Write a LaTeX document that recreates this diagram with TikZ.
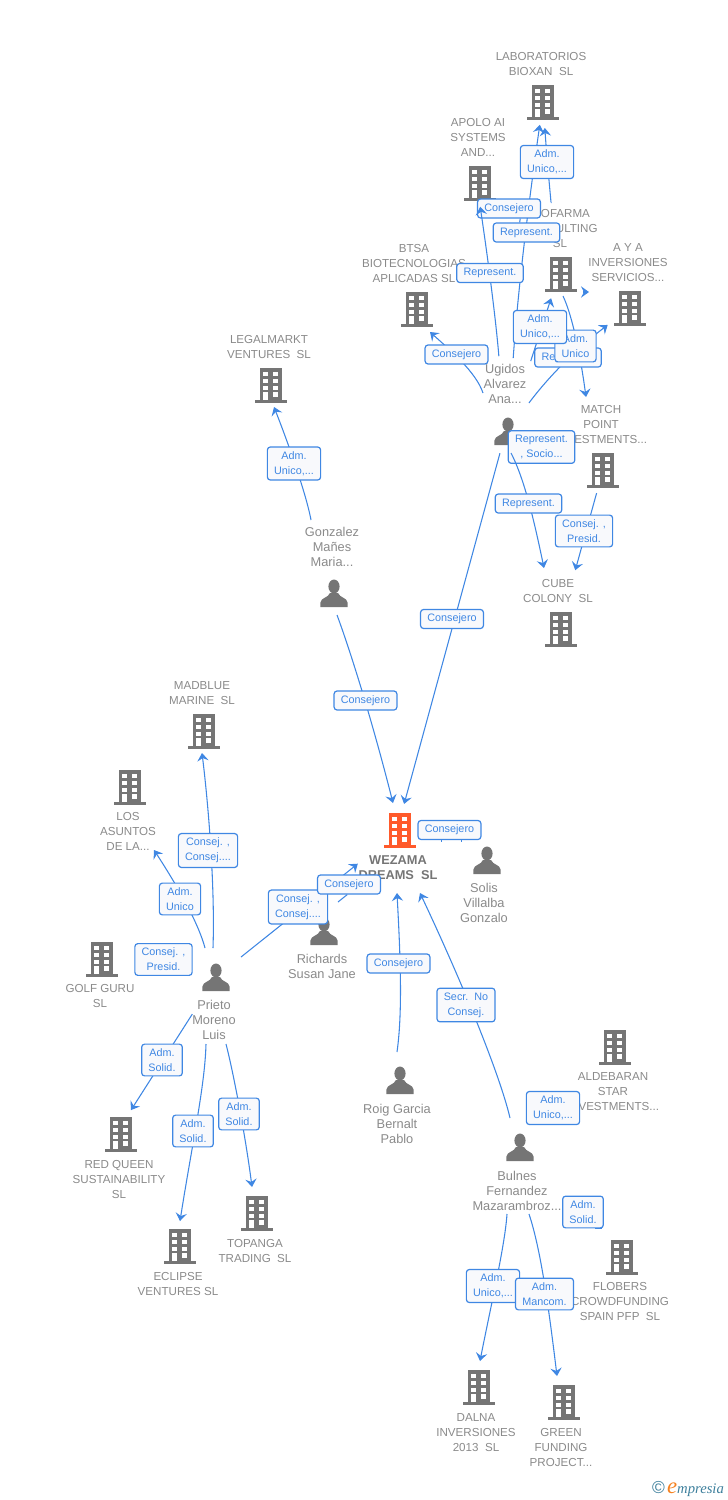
\documentclass[tikz,border=0pt]{standalone}
\usepackage{fontspec}
\setmainfont{Liberation Sans}
\newfontfamily\logofont{Liberation Serif}
\usetikzlibrary{arrows.meta}
\definecolor{linkblue}{HTML}{3F87E3}
\definecolor{labelfill}{HTML}{F8F9FC}
\definecolor{textgrey}{HTML}{8A8A8A}
\definecolor{icongrey}{HTML}{757575}
\definecolor{iconorange}{HTML}{FF5A2B}
\definecolor{logoteal}{HTML}{3D7F9C}
\definecolor{logoorange}{HTML}{F58220}
\tikzset{
    %Define standard arrow tip
    >={Stealth[length=6pt,width=8.5pt,inset=2.2pt]},
    %Define style for edge labels
    lbl/.style={
           rectangle,
           rounded corners=2.2pt,
           draw=linkblue, line width=.9pt,
           fill=labelfill,
           text=linkblue,
           inner xsep=5.1pt,
           inner ysep=3.3pt,
           minimum height=14.25pt,
           align=center,
           font=\fontsize{8.1}{11.25}\selectfont},
    %Define style for names under the icons
    company/.style={
           text=textgrey,
           inner sep=0pt,
           yshift=-.7pt,
           align=center,
           font=\fontsize{8.7}{11.25}\selectfont},
    person/.style={
           text=textgrey,
           inner sep=0pt,
           yshift=-.4pt,
           align=center,
           font=\fontsize{9.6}{11.25}\selectfont},
    %Define icons
    buildingicon/.style={
           rectangle,
           inner sep=0pt,
           minimum width=24pt,
           minimum height=26.5pt,
           path picture={
             \begin{scope}[shift={(path picture bounding box.center)}]
             \fill[#1] (-11,-17) rectangle (11,15);
             \fill[#1] (-16,15) rectangle (16,17.6);
             \foreach \wx in {-7.7,2.3}
               \foreach \wy in {-13,-6,0.7,7.3}
                 \fill[white] (\wx,\wy) rectangle +(4.7,4.3);
             \fill[white] (-7.7,7.3) rectangle (-3,15);
             \end{scope}}},
    buildingicon/.default=icongrey,
    personicon/.style={
           rectangle,
           inner sep=0pt,
           minimum width=21pt,
           minimum height=21pt,
           path picture={
             \begin{scope}[shift={(path picture bounding box.center)}]
             \fill[icongrey] (0,-6.5) ellipse (5.6 and 7);
             \fill[icongrey] (-13.6,14) -- (-13.6,9.5) .. controls (-13,4.5) and (-6,5) .. (-4,0)
               -- (4,0) .. controls (6,5) and (13,4.5) .. (13.6,9.5) -- (13.6,14) -- cycle;
             \end{scope}}},
    %Define arrow style
    pil/.style={->,draw=linkblue,line width=.8pt},
    stub/.style={draw=linkblue,line width=.8pt},
    trim/.style 2 args={shorten <=#1*.75pt,shorten >=#2*.75pt}
}
\begin{document}
\begin{tikzpicture}[x=.75pt,y=-.75pt]
\useasboundingbox (0,0) rectangle (728,1500);
%companies
\node[buildingicon] (bioxan) at (543,102) {};
\node[company] (bioxantxt) at (541,63.5) {LABORATORIOS\\BIOXAN\ \ SL};
\node[buildingicon] (apolo) at (480,183) {};
\node[company] (apolotxt) at (478,137) {APOLO AI\\SYSTEMS\\AND...};
\node[buildingicon] (btsa) at (417,309) {};
\node[company] (btsatxt) at (414,263) {BTSA\\BIOTECNOLOGIAS\\APLICADAS SL};
\node[buildingicon] (biofarma) at (561,274) {};
\node[company] (biofarmatxt) at (560,228) {BIOFARMA\\CONSULTING\\SL};
\node[buildingicon] (aya) at (630,308) {};
\node[company] (ayatxt) at (628,262) {A Y A\\INVERSIONES\\SERVICIOS...};
\node[buildingicon] (match) at (603,470) {};
\node[company] (matchtxt) at (601,424) {MATCH\\POINT\\INVESTMENTS...};
\node[buildingicon] (cube) at (561,629) {};
\node[company] (cubetxt) at (558,590.5) {CUBE\\COLONY\ \ SL};
\node[buildingicon] (legalmarkt) at (271,385) {};
\node[company] (legalmarkttxt) at (269,346.5) {LEGALMARKT\\VENTURES\ \ SL};
\node[buildingicon] (madblue) at (204,731) {};
\node[company] (madbluetxt) at (202,692.5) {MADBLUE\\MARINE\ \ SL};
\node[buildingicon] (asuntos) at (130,787) {};
\node[company] (asuntostxt) at (128,831) {LOS\\ASUNTOS\\DE LA...};
\node[buildingicon] (golf) at (102,959) {};
\node[company] (golftxt) at (100,995.5) {GOLF GURU\\SL};
\node[buildingicon] (redqueen) at (121,1134) {};
\node[company] (redqueentxt) at (119,1179) {RED QUEEN\\SUSTAINABILITY\\SL};
\node[buildingicon] (eclipse) at (180,1246) {};
\node[company] (eclipsetxt) at (178,1283.5) {ECLIPSE\\VENTURES SL};
\node[buildingicon] (topanga) at (257,1213) {};
\node[company] (topangatxt) at (255,1250.5) {TOPANGA\\TRADING\ \ SL};
\node[buildingicon] (aldebaran) at (615,1047) {};
\node[company] (aldebarantxt) at (613,1091) {ALDEBARAN\\STAR\\INVESTMENTS...};
\node[buildingicon] (flobers) at (622,1257) {};
\node[company] (floberstxt) at (620,1301) {FLOBERS\\CROWDFUNDING\\SPAIN PFP\ \ SL};
\node[buildingicon] (dalna) at (479,1387) {};
\node[company] (dalnatxt) at (476,1432) {DALNA\\INVERSIONES\\2013\ \ SL};
\node[buildingicon] (green) at (564,1402) {};
\node[company] (greentxt) at (561,1447) {GREEN\\FUNDING\\PROJECT...};
\node[buildingicon=iconorange] (wezama) at (400,830) {};
\node[company,text=icongrey,font=\fontsize{9.6}{11.25}\selectfont\bfseries] (wezamatxt) at (398,866.5) {WEZAMA\\DREAMS\ \ SL};
%persons
\node[personicon] (ugidos) at (508,431) {};
\node[person] (ugidostxt) at (505,383) {Ugidos\\Alvarez\\Ana...};
\node[personicon] (gonzalez) at (334,593) {};
\node[person] (gonzaleztxt) at (332,546) {Gonzalez\\Mañes\\Maria...};
\node[personicon] (prieto) at (216,977) {};
\node[person] (prietotxt) at (214,1019) {Prieto\\Moreno\\Luis};
\node[personicon] (solis) at (487,860) {};
\node[person] (solistxt) at (484,902) {Solis\\Villalba\\Gonzalo};
\node[personicon] (richards) at (324,931) {};
\node[person] (richardstxt) at (322,965.5) {Richards\\Susan Jane};
\node[personicon] (roig) at (400,1080) {};
\node[person] (roigtxt) at (397,1123) {Roig Garcia\\Bernalt\\Pablo};
\node[personicon] (bulnes) at (520,1147) {};
\node[person] (bulnestxt) at (517,1190) {Bulnes\\Fernandez\\Mazarambroz...};
%edges that stay under the labels of the top group
\draw[pil,trim={73}{23}] (ugidos.center) to[bend left=2] (bioxan.center);
\node[lbl] (apoloconsej) at (509,208.5) {Consejero};
\draw[pil,trim={75}{24}] ([xshift=-2.5pt]ugidos.center) to[bend right=2] ([xshift=-2.5pt]apolo.center);
\node[lbl] (socio) at (541.5,447) {Represent.\\, Socio...};
\draw[pil] ([shift={(3,22)}]ugidos.center) .. controls (525,480) and (535,525) .. ([shift={(-17,-61)}]cube.center);
%edges
\draw[pil,trim={73}{26}] (biofarma.center) to[bend left=2] (bioxan.center);
\draw[pil,trim={73.5}{25.5}] (ugidos.center) -- ([xshift=-1.5pt]biofarma.center);
\draw[pil,trim={35}{28}] (ugidos.center) to[bend left=8] (aya.center);
\draw[pil,trim={22}{41}] ([yshift=-13.5pt]biofarma.center) -- ([yshift=12pt]aya.center);
\draw[pil] ([shift={(2,22)}]biofarma.center) .. controls (573,317) and (581,360) .. ([shift={(-17,-73)}]match.center);
\draw[pil] ([shift={(-25,-38)}]ugidos.center) .. controls (476,372) and (450,350) .. ([shift={(13,23)}]btsa.center);
\draw[pil,trim={24}{61}] (match.center) -- ([xshift=-1.5pt]cube.center);
\draw[pil,trim={23}{27}] ([xshift=-1.5pt]ugidos.center) -- ([xshift=-2.25pt]wezama.center);
\draw[pil] ([shift={(-23,-73)}]gonzalez.center) .. controls (306,493) and (287,440) .. ([shift={(3,22)}]legalmarkt.center);
\draw[pil] ([shift={(3,22)}]gonzalez.center) .. controls (350,650) and (372,720) .. ([shift={(-7,-27)}]wezama.center);
\draw[pil] ([shift={(-3,-29)}]prieto.center) .. controls (215,890) and (209,810) .. ([shift={(-2,22)}]madblue.center);
\draw[pil] ([shift={(-11,-29)}]prieto.center) .. controls (199,925) and (180,890) .. ([shift={(24,63)}]asuntos.center);
\draw[pil,trim={32}{54}] (prieto.center) -- (wezama.center);
\draw[pil,trim={44}{26}] (prieto.center) -- ([shift={(-4,-2)}]redqueen.center);
\draw[pil] ([shift={(-10,67)}]prieto.center) .. controls (205,1085) and (192,1145) .. ([shift={(0,-25)}]eclipse.center);
\draw[pil] ([shift={(10,67)}]prieto.center) .. controls (234,1075) and (246,1140) .. ([shift={(-5,-26)}]topanga.center);
\draw[pil] ([shift={(-3,-28)}]roig.center) .. controls (403,1010) and (400,950) .. ([shift={(-3,63)}]wezama.center);
\draw[pil] ([shift={(-10,-29)}]bulnes.center) .. controls (500,1075) and (462,982) .. ([shift={(20,63)}]wezama.center);
\draw[pil] ([shift={(-13,67)}]bulnes.center) .. controls (505,1245) and (491,1305) .. ([shift={(1,-26)}]dalna.center);
\draw[pil] ([shift={(9,67)}]bulnes.center) .. controls (541,1250) and (549,1310) .. ([shift={(-7,-26)}]green.center);
%labels
\node[lbl] (bioxanadm) at (547,162) {Adm.\\Unico,...};
\node[lbl] (bioxanrep) at (526.5,232.5) {Represent.};
\node[lbl] (aporep) at (490,273) {Represent.};
\node[lbl] (ayarep) at (568,357.5) {Represent.};
\node[lbl] (matchadm) at (575.5,346) {Adm.\\Unico};
\node[lbl] (biofarmaadm) at (540,327) {Adm.\\Unico,...};
\node[lbl] (btsaconsej) at (456.5,354.5) {Consejero};
\node[lbl] (cuberep) at (528.5,503.5) {Represent.};
\node[lbl] (cubeconsej) at (584,531) {Consej. ,\\Presid.};
\node[lbl] (ugidosconsej) at (452,619) {Consejero};
\node[lbl] (legaladm) at (294,463.5) {Adm.\\Unico,...};
\node[lbl] (gonzalezconsej) at (365.5,700.5) {Consejero};
\node[lbl] (madblueconsej) at (208,850.5) {Consej. ,\\Consej....};
\node[lbl] (asuntosadm) at (180,899) {Adm.\\Unico};
\node[lbl] (golfconsej) at (163.5,959.5) {Consej. ,\\Presid.};
\node[lbl] (redqueenadm) at (162,1060) {Adm.\\Solid.};
\node[lbl] (eclipseadm) at (193,1131) {Adm.\\Solid.};
\node[lbl] (topangaadm) at (239,1114) {Adm.\\Solid.};
\node[lbl] (prietoconsej) at (298,907) {Consej. ,\\Consej....};
\node[lbl] (richardsconsej) at (349,884.5) {Consejero};
\node[lbl] (solisconsej) at (449.5,830) {Consejero};
\node[lbl] (roigconsej) at (398.5,963.5) {Consejero};
\node[lbl] (bulnessecr) at (466,1005) {Secr.\ \ No\\Consej.};
\node[lbl] (aldebaranadm) at (553,1108) {Adm.\\Unico,...};
\node[lbl] (flobersadm) at (583,1212) {Adm.\\Solid.};
\node[lbl] (dalnaadm) at (493,1286) {Adm.\\Unico,...};
\node[lbl] (greenadm) at (544.5,1294) {Adm.\\Mancom.};
%stubs left by hidden edges
\draw[stub] ([shift={(14,-29)}]richards.center) -- (richardsconsej.-100);
\draw[stub] (apoloconsej.-42) -- (bioxanrep.124);
\draw[stub] ([xshift=-6pt]solisconsej.south) -- +(0,2);
\draw[stub] ([xshift=9pt]solisconsej.south) -- +(0,2);
\draw[stub] ([xshift=9pt]flobersadm.south) -- +(7,0);
%logo
\node[inner sep=0pt] (logo) at (688,1489) {{\color{logoteal}\fontsize{13}{13}\selectfont ©}\,{\logofont\itshape\color{logoorange}\fontsize{17}{17}\selectfont e}{\logofont\itshape\color{logoteal}\fontsize{11}{11}\selectfont mpresia}};
\end{tikzpicture}
\end{document}
